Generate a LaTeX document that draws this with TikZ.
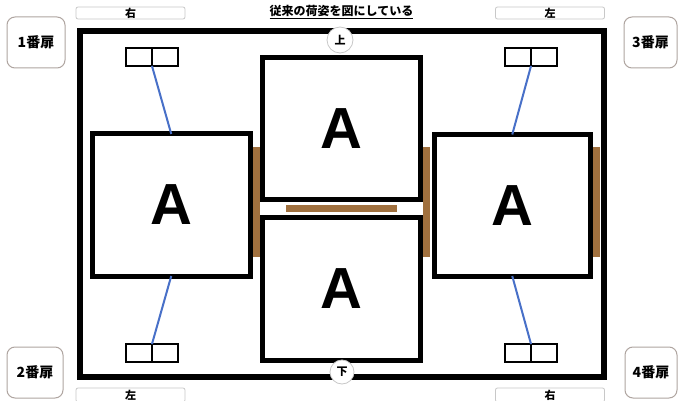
\documentclass[tikz,border=0pt]{standalone}
\usepackage{fontspec}
\setmainfont{Liberation Sans}
\newfontfamily\jp{Noto Sans CJK JP}
\definecolor{brownbar}{RGB}{160,112,62}
\definecolor{lineblue}{RGB}{72,112,200}
\definecolor{doorgray}{RGB}{175,165,160}
\definecolor{sidegray}{RGB}{200,200,200}
\tikzset{
 frame/.style={draw=black, line width=6pt, minimum width=524.5pt, minimum height=345.5pt, inner sep=0pt, outer sep=0pt},
 abox/.style={draw=black, line width=5pt, fill=white, minimum width=157.5pt, minimum height=142pt, inner sep=0pt, outer sep=0pt, font=\fontsize{58}{58}\selectfont\bfseries},
 bar/.style={fill=brownbar, inner sep=0pt, outer sep=0pt},
 half/.style={draw=black, line width=2pt, fill=white, minimum width=26pt, minimum height=18pt, inner sep=0pt, outer sep=0pt},
 bluel/.style={draw=lineblue, line width=2pt},
 marker/.style={circle, draw=sidegray, fill=white, line width=0.8pt, inner sep=0pt, font=\jp\bfseries\fontsize{11}{11}\selectfont},
 door/.style={draw=doorgray, rounded corners=8pt, line width=1pt, fill=white, inner sep=0pt, font=\jp\bfseries\fontsize{14}{14}\selectfont},
 side/.style={draw=sidegray, line width=0.8pt, rounded corners=2pt, minimum width=109pt, minimum height=12pt, inner sep=0pt, font=\jp\bfseries\fontsize{11}{11}\selectfont},
 title/.style={inner sep=0pt, font=\jp\bfseries\fontsize{12}{12}\selectfont},
}
\begin{document}
\begin{tikzpicture}[x=1pt,y=-1pt]
\fill[white] (0,0) rectangle (678,401);
\useasboundingbox (0,0) rectangle (678,401);
% labels above / below
\node[side] (st1) at (130.5,13) {右};
\node[side] (st2) at (550,13) {左};
\node[side, minimum height=14pt] (sb1) at (130.5,395) {左};
\node[side, minimum height=14pt] (sb2) at (550,395) {右};
\node[title] (ttl) at (341.5,12) {\underline{従来の荷姿を図にしている}};
% door boxes
\node[door, minimum width=58pt, minimum height=51pt] (d1) at (36,42.5) {1番扉};
\node[door, minimum width=53pt, minimum height=51pt] (d3) at (650.5,42.5) {3番扉};
\node[door, minimum width=56pt, minimum height=51pt] (d2) at (35,372.5) {2番扉};
\node[door, minimum width=52pt, minimum height=51pt] (d4) at (651,372.5) {4番扉};
% outer frame
\node[frame] (fr) at (341.75,204.25) {};
% brown bars
\node[bar, minimum width=7pt, minimum height=110pt] (b1) at (256.5,202) {};
\node[bar, minimum width=7pt, minimum height=110pt] (b2) at (426.5,202) {};
\node[bar, minimum width=7pt, minimum height=110pt] (b3) at (596.5,202) {};
\node[bar, minimum width=111pt, minimum height=7pt] (b4) at (341.5,208.5) {};
% A boxes
\node[abox] (L) at (171.25,205) {A};
\node[abox] (T) at (341.25,128.75) {A};
\node[abox, minimum height=143pt] (B) at (341.5,289) {A};
\node[abox, minimum width=156.5pt, minimum height=141.5pt] (R) at (512.25,205.25) {A};
% small double boxes
\node[half] (tl1) at (139,57) {};
\node[half] (tl2) at (165,57) {};
\node[half] (tr1) at (518,57) {};
\node[half] (tr2) at (544,57) {};
\node[half] (bl1) at (139,353) {};
\node[half] (bl2) at (165,353) {};
\node[half] (br1) at (518,353) {};
\node[half] (br2) at (544,353) {};
% blue connectors
\draw[bluel] (tl1.south east) -- (L.north);
\draw[bluel] (tr1.south east) -- (R.north);
\draw[bluel] (bl1.north east) -- (L.south);
\draw[bluel] (br1.north east) -- (R.south);
% markers
\node[marker, minimum size=26pt] (up) at (340,40) {上};
\node[marker, minimum size=24pt] (dn) at (342,372) {下};
\end{tikzpicture}
\end{document}
